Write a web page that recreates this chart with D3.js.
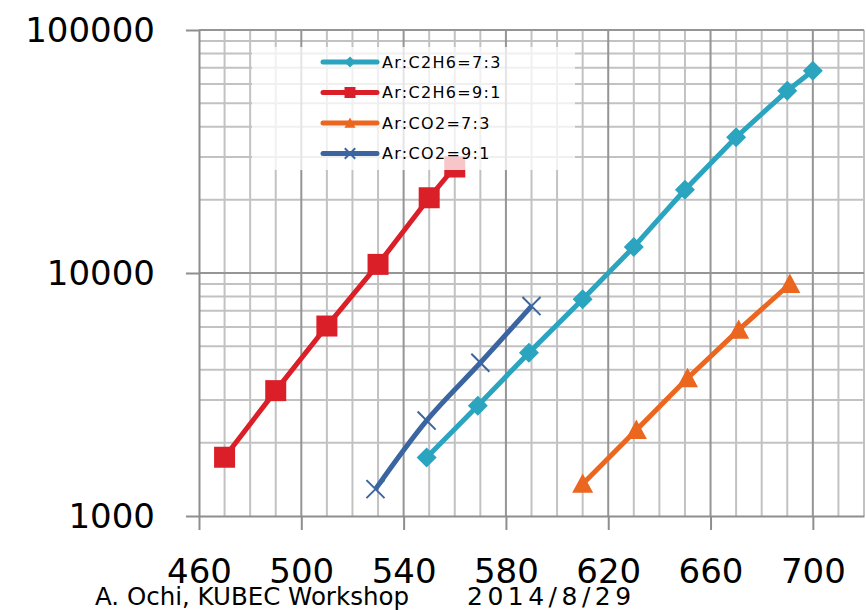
<!DOCTYPE html>
<html>
<head>
<meta charset="utf-8">
<script src="https://cdn.jsdelivr.net/npm/d3@7"></script>
<style>
  body { margin: 0; background: #fff; }
  text { font-family: "DejaVu Sans", sans-serif; fill: #000; }
</style>
</head>
<body>
<div id="chart"></div>
<script>
var width = 866,
    height = 610;

// data
var seriesNames = ['Ar:C2H6=7:3', 'Ar:C2H6=9:1', 'Ar:CO2=7:3', 'Ar:CO2=9:1'];
var c2h6_73_x = [549, 569, 589, 610, 630, 650, 670, 690, 700];
var c2h6_73_y = [1740, 2840, 4700, 7800, 12800, 22000, 36200, 56200, 68000];
var c2h6_91_x = [470, 490, 510, 530, 550, 560];
var c2h6_91_y = [1745, 3280, 6050, 10850, 20400, 27300];
var co2_73_x = [610, 631, 651, 671, 691];
var co2_73_y = [1355, 2260, 3690, 5830, 9010];
var co2_91_x = [529, 549, 570, 590];
var co2_91_y = [1290, 2470, 4270, 7310];
var xTicks = [460, 500, 540, 580, 620, 660, 700];
var yTicks = [1000, 10000, 100000];

var series = [
    {name: seriesNames[0], xs: c2h6_73_x, ys: c2h6_73_y, color: '#2ba4c0', marker: 'diamond'},
    {name: seriesNames[1], xs: c2h6_91_x, ys: c2h6_91_y, color: '#db1f29', marker: 'square'},
    {name: seriesNames[2], xs: co2_73_x, ys: co2_73_y, color: '#eb661f', marker: 'triangle'},
    {name: seriesNames[3], xs: co2_91_x, ys: co2_91_y, color: '#3b65a0', marker: 'cross'}
];
series.forEach(function (s) {
    s.points = s.xs.map(function (x, i) { return {x: x, y: s.ys[i]}; });
});

var svg = d3.select('#chart')
    .append('svg')
    .attr('width', width)
    .attr('height', height);

var x = d3.scaleLinear().domain([460, 720]).range([199, 864]);
var y = d3.scaleLog().domain([1000, 100000]).range([516, 30]);

// grid
var grid = svg.append('g');
var minorX = d3.range(470, 721, 10).filter(function (v) { return (v - 460) % 40 !== 0; });
var majorX = d3.range(500, 701, 40);
var minorY = [];
[1000, 10000].forEach(function (d) {
    for (var k = 2; k <= 9; k++) minorY.push(d * k);
});

grid.selectAll('.vminor').data(minorX).enter().append('line')
    .attr('x1', function (d) { return x(d); })
    .attr('x2', function (d) { return x(d); })
    .attr('y1', y(100000)).attr('y2', y(1000))
    .attr('stroke', '#c2c2c2').attr('stroke-width', 2);
grid.selectAll('.hminor').data(minorY).enter().append('line')
    .attr('x1', x(460)).attr('x2', x(720))
    .attr('y1', function (d) { return y(d); })
    .attr('y2', function (d) { return y(d); })
    .attr('stroke', '#c2c2c2').attr('stroke-width', 2);
grid.selectAll('.vmajor').data(majorX).enter().append('line')
    .attr('x1', function (d) { return x(d); })
    .attr('x2', function (d) { return x(d); })
    .attr('y1', y(100000)).attr('y2', y(1000))
    .attr('stroke', '#959595').attr('stroke-width', 2);
grid.selectAll('.hmajor').data([10000, 100000]).enter().append('line')
    .attr('x1', x(460)).attr('x2', x(720))
    .attr('y1', function (d) { return y(d); })
    .attr('y2', function (d) { return y(d); })
    .attr('stroke', '#959595').attr('stroke-width', 2);

// axes
var xAxis = svg.append('g')
    .attr('transform', 'translate(0,' + y(1000) + ')')
    .call(d3.axisBottom(x).tickValues(xTicks).tickSize(14).tickSizeOuter(0));
xAxis.selectAll('text')
    .attr('y', 67).attr('dy', 0)
    .style('font-size', '34px');

var yAxis = svg.append('g')
    .attr('transform', 'translate(' + x(460) + ',0)')
    .call(d3.axisLeft(y).tickValues(yTicks).tickFormat(d3.format('d')).tickSize(13).tickSizeOuter(0));
yAxis.selectAll('text')
    .attr('x', -44).attr('dy', '0.33em')
    .style('font-size', '34px');

svg.selectAll('.domain, .tick line')
    .attr('stroke', '#8e8e8e').attr('stroke-width', 2);

// markers
function marker(sel, type, size, color) {
    var h = size / 2;
    if (type === 'square') {
        sel.append('rect').attr('x', -h).attr('y', -h).attr('width', size).attr('height', size)
            .attr('fill', color);
    } else if (type === 'diamond') {
        sel.append('path').attr('d', 'M0,' + (-h) + 'L' + h + ',0L0,' + h + 'L' + (-h) + ',0Z')
            .attr('fill', color);
    } else if (type === 'triangle') {
        sel.append('path').attr('d', 'M0,' + (-h) + 'L' + h + ',' + (h * 0.85) + 'L' + (-h) + ',' + (h * 0.85) + 'Z')
            .attr('fill', color);
    } else {
        var c = h * 0.95;
        sel.append('path').attr('d', 'M' + (-c) + ',' + (-c) + 'L' + c + ',' + c + 'M' + (-c) + ',' + c + 'L' + c + ',' + (-c))
            .attr('stroke', color).attr('stroke-width', 2).attr('fill', 'none');
    }
}

var markerSize = {diamond: 20, square: 21, triangle: 21, cross: 19};

series.forEach(function (s) {
    var line = d3.line()
        .x(function (d) { return x(d.x); })
        .y(function (d) { return y(d.y); })
        .curve(s.marker === 'cross' ? d3.curveCatmullRom.alpha(0.5) : d3.curveLinear);

    svg.append('path')
        .datum(s.points)
        .attr('d', line)
        .attr('fill', 'none')
        .attr('stroke', s.color)
        .attr('stroke-width', 5)
        .attr('stroke-linejoin', 'round');

    svg.selectAll(null)
        .data(s.points)
        .enter()
        .append('g')
        .attr('transform', function (d) { return 'translate(' + x(d.x) + ',' + y(d.y) + ')'; })
        .each(function () {
            marker(d3.select(this), s.marker, markerSize[s.marker], s.color);
        });
});

// legend
svg.append('rect')
    .attr('x', 252).attr('y', 47)
    .attr('width', 323).attr('height', 123)
    .attr('fill', '#fff').attr('fill-opacity', 0.75);

var legend = svg.selectAll('.legend')
    .data(series)
    .enter()
    .append('g')
    .attr('class', 'legend')
    .attr('transform', function (d, i) { return 'translate(323,' + (62 + i * 30.5) + ')'; });

legend.append('line')
    .attr('x1', 0).attr('x2', 54)
    .attr('stroke', function (d) { return d.color; })
    .attr('stroke-width', 5)
    .attr('stroke-linecap', 'round');
legend.each(function (d) {
    var g = d3.select(this).append('g').attr('transform', 'translate(27,0)');
    marker(g, d.marker, 11, d.color);
});
legend.append('text')
    .attr('x', 59).attr('dy', '0.36em')
    .style('font-size', '16px')
    .style('letter-spacing', '1.3px')
    .text(function (d) { return d.name; });

// footer
svg.append('text')
    .attr('x', 95).attr('y', 605)
    .style('font-size', '24.5px')
    .text('A. Ochi, KUBEC Workshop');
svg.append('text')
    .attr('x', 467).attr('y', 605)
    .style('font-size', '25px')
    .style('letter-spacing', '4.5px')
    .text('2014/8/29');
</script>
</body>
</html>
